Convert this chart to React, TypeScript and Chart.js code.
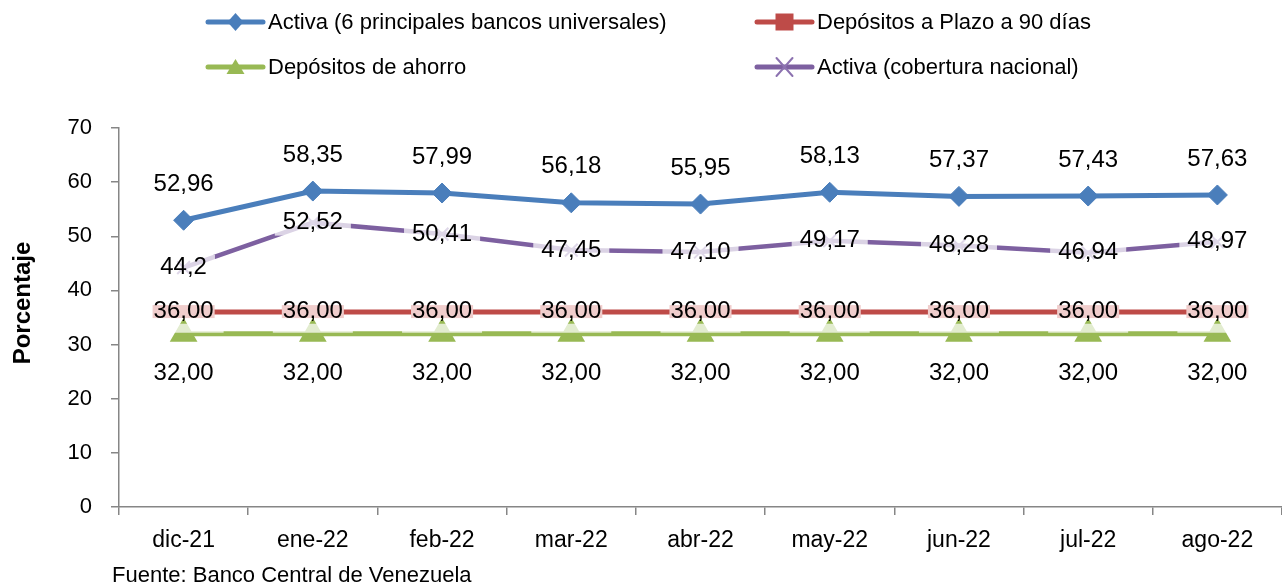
import React, { useEffect, useRef } from "react";
import { Chart, registerables } from "chart.js";

Chart.register(...registerables);

const FONT = "'Liberation Sans', Arial, Helvetica, sans-serif";

const categories = ["dic-21", "ene-22", "feb-22", "mar-22", "abr-22", "may-22", "jun-22", "jul-22", "ago-22"];
const activaBancos = [52.96, 58.35, 57.99, 56.18, 55.95, 58.13, 57.37, 57.43, 57.63];
const plazo90 = [36, 36, 36, 36, 36, 36, 36, 36, 36];
const ahorro = [32, 32, 32, 32, 32, 32, 32, 32, 32];
const activaNacional = [44.2, 52.52, 50.41, 47.45, 47.1, 49.17, 48.28, 46.94, 48.97];
const activaNacionalDecimals = [1, 2, 2, 2, 2, 2, 2, 2, 2];

const seriesNames = [
  "Activa (6 principales bancos universales)",
  "Depósitos a Plazo a 90 días",
  "Depósitos de ahorro",
  "Activa (cobertura nacional)",
];
const seriesColors = ["#4A7EBB", "#BE4B48", "#98B954", "#7D60A0"];

const yMin = 0;
const yMax = 70;
const yStep = 10;
const yTitle = "Porcentaje";
const sourceNote = "Fuente: Banco Central de Venezuela";

const fmt = (v: number, d: number) => v.toFixed(d).replace(".", ",");

const labelPlugin = {
  id: "valueLabels",
  afterDatasetsDraw(chart: any) {
    const ctx = chart.ctx as CanvasRenderingContext2D;
    ctx.save();
    ctx.font = `24px ${FONT}`;
    ctx.textAlign = "center";
    ctx.textBaseline = "middle";
    chart.data.datasets.forEach((ds: any, di: number) => {
      const meta = chart.getDatasetMeta(di);
      meta.data.forEach((pt: any, i: number) => {
        const dec = di === 3 ? activaNacionalDecimals[i] : 2;
        const txt = fmt(ds.data[i], dec);
        const w = ctx.measureText(txt).width;
        if (di === 1) {
          ctx.fillStyle = "#F0CDCC";
          ctx.fillRect(pt.x - w / 2 - 1, pt.y - 7, w + 2, 13);
        } else if (di === 2) {
          ctx.fillStyle = "rgba(255,255,255,0.72)";
          ctx.fillRect(pt.x - 40, pt.y - 10, 80, 9);
        } else if (di === 3) {
          ctx.fillStyle = "rgba(255,255,255,0.72)";
          ctx.fillRect(pt.x - w / 2 - 8, pt.y - 13, w + 16, 26);
        }
      });
    });
    chart.data.datasets.forEach((ds: any, di: number) => {
      const meta = chart.getDatasetMeta(di);
      meta.data.forEach((pt: any, i: number) => {
        const dec = di === 3 ? activaNacionalDecimals[i] : 2;
        const txt = fmt(ds.data[i], dec);
        let y = pt.y;
        if (di === 0) y = pt.y - 36;
        else if (di === 2) y = pt.y + 40;
        else if (di === 1) y = pt.y - 1;
        ctx.fillStyle = "#000";
        ctx.fillText(txt, pt.x, y);
      });
    });
    ctx.restore();
  },
};

function drawMarker(ctx: CanvasRenderingContext2D, kind: number, x: number, y: number, color: string) {
  ctx.save();
  ctx.fillStyle = color;
  ctx.strokeStyle = color;
  ctx.beginPath();
  if (kind === 0) {
    ctx.moveTo(x, y - 9);
    ctx.lineTo(x + 8, y);
    ctx.lineTo(x, y + 9);
    ctx.lineTo(x - 8, y);
    ctx.closePath();
    ctx.fill();
  } else if (kind === 1) {
    ctx.rect(x - 9, y - 8.5, 18, 17);
    ctx.fill();
  } else if (kind === 2) {
    ctx.moveTo(x, y - 8);
    ctx.lineTo(x + 9, y + 7);
    ctx.lineTo(x - 9, y + 7);
    ctx.closePath();
    ctx.fill();
  } else {
    ctx.lineWidth = 2;
    ctx.strokeStyle = "#8C72B0";
    ctx.moveTo(x - 8, y - 9);
    ctx.lineTo(x + 8, y + 9);
    ctx.moveTo(x + 8, y - 9);
    ctx.lineTo(x - 8, y + 9);
    ctx.stroke();
  }
  ctx.restore();
}

const decorPlugin = {
  id: "decor",
  afterDraw(chart: any) {
    const ctx = chart.ctx as CanvasRenderingContext2D;
    ctx.save();
    const cols = [208, 757];
    const rows = [22, 67];
    seriesNames.forEach((name, i) => {
      const x = cols[i % 2];
      const y = rows[Math.floor(i / 2)];
      ctx.strokeStyle = seriesColors[i];
      ctx.lineWidth = 5;
      ctx.lineCap = "round";
      ctx.beginPath();
      ctx.moveTo(x, y);
      ctx.lineTo(x + 55, y);
      ctx.stroke();
      drawMarker(ctx, i, x + 27.5, y, seriesColors[i]);
      ctx.fillStyle = "#000";
      ctx.font = `22px ${FONT}`;
      ctx.textAlign = "left";
      ctx.textBaseline = "middle";
      ctx.fillText(name, x + 60, y + 1);
    });
    ctx.save();
    ctx.translate(23, 303);
    ctx.rotate(-Math.PI / 2);
    ctx.font = `bold 24px ${FONT}`;
    ctx.textAlign = "center";
    ctx.textBaseline = "middle";
    ctx.fillStyle = "#000";
    ctx.fillText(yTitle, 0, 0);
    ctx.restore();
    ctx.font = `22px ${FONT}`;
    ctx.textAlign = "left";
    ctx.textBaseline = "alphabetic";
    ctx.fillStyle = "#000";
    ctx.fillText(sourceNote, 112, 582);
    ctx.restore();
  },
};

export default function App() {
  const ref = useRef<HTMLCanvasElement | null>(null);
  useEffect(() => {
    document.body.style.margin = "0";
    const canvas = ref.current;
    if (!canvas) return;
    Chart.defaults.font.family = FONT;
    const chart = new Chart(canvas, {
      type: "line",
      data: {
        labels: categories,
        datasets: [
          {
            label: seriesNames[0],
            data: activaBancos,
            borderColor: seriesColors[0],
            backgroundColor: seriesColors[0],
            borderWidth: 5,
            pointStyle: "rectRot",
            pointRadius: 10,
            pointBackgroundColor: seriesColors[0],
            pointBorderColor: seriesColors[0],
            pointBorderWidth: 1,
            tension: 0,
          },
          {
            label: seriesNames[1],
            data: plazo90,
            borderColor: seriesColors[1],
            backgroundColor: seriesColors[1],
            borderWidth: 5,
            pointStyle: "rect",
            pointRadius: 6,
            pointBorderWidth: 0,
            pointBackgroundColor: seriesColors[1],
            pointBorderColor: seriesColors[1],
            tension: 0,
          },
          {
            label: seriesNames[2],
            data: ahorro,
            borderColor: seriesColors[2],
            backgroundColor: seriesColors[2],
            borderWidth: 5,
            pointStyle: "triangle",
            pointRadius: 11,
            pointBackgroundColor: seriesColors[2],
            pointBorderColor: seriesColors[2],
            tension: 0,
          },
          {
            label: seriesNames[3],
            data: activaNacional,
            borderColor: seriesColors[3],
            backgroundColor: seriesColors[3],
            borderWidth: 4.5,
            pointStyle: "crossRot",
            pointRadius: 9,
            pointBorderWidth: 2,
            pointBackgroundColor: "#8C72B0",
            pointBorderColor: "#8C72B0",
            tension: 0,
          },
        ],
      },
      options: {
        animation: false,
        responsive: false,
        maintainAspectRatio: false,
        layout: { autoPadding: false, padding: { top: 128, right: 0, bottom: 0, left: 0 } },
        plugins: {
          legend: { display: false },
          tooltip: { enabled: false },
          title: { display: false },
        },
        scales: {
          x: {
            type: "category",
            offset: true,
            grid: {
              display: true,
              drawOnChartArea: false,
              drawTicks: true,
              tickLength: 8,
              offset: true,
              color: "#868686",
              lineWidth: 1.5,
            },
            border: { display: true, color: "#868686", width: 1.5 },
            ticks: {
              color: "#000",
              font: { size: 23, family: FONT },
              padding: 12,
              maxRotation: 0,
              autoSkip: false,
            },
            afterFit: (s: any) => {
              s.height = 78;
            },
          },
          y: {
            min: yMin,
            max: yMax,
            grid: {
              display: true,
              drawOnChartArea: false,
              drawTicks: true,
              tickLength: 8,
              color: "#868686",
              lineWidth: 1.5,
            },
            border: { display: true, color: "#868686", width: 1.5 },
            ticks: {
              stepSize: yStep,
              color: "#000",
              font: { size: 22, family: FONT },
              padding: 19,
            },
            afterFit: (s: any) => {
              s.width = 119;
            },
          },
        },
      },
      plugins: [labelPlugin, decorPlugin],
    });
    return () => chart.destroy();
  }, []);
  return (
    <div style={{ position: "absolute", left: 0, top: 0, width: 1282, height: 585, background: "#fff" }}>
      <canvas ref={ref} width={1282} height={585} style={{ width: 1282, height: 585, display: "block" }} />
    </div>
  );
}
